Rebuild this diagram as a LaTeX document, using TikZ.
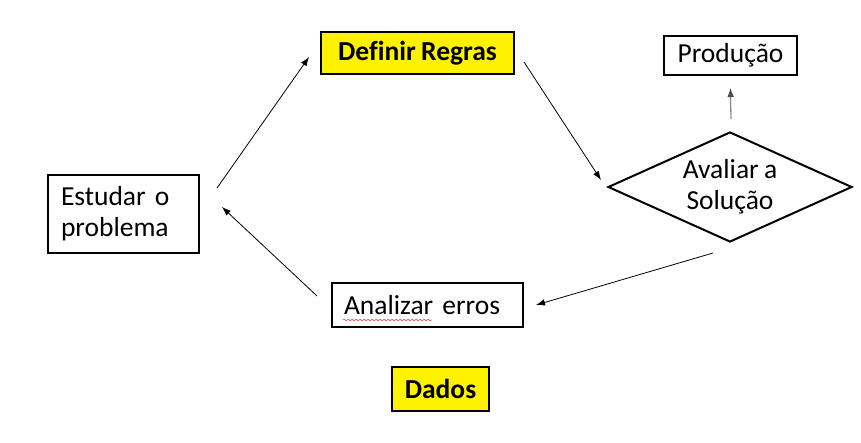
\documentclass[tikz,border=0pt]{standalone}
\usepackage{fontspec}
\setmainfont{Carlito}[WordSpace=0.85,Ligatures=NoCommon]
\usetikzlibrary{arrows.meta,shapes.geometric,decorations.pathmorphing}
\begin{document}
\begin{tikzpicture}[x=1pt,y=-1pt,
  txt/.style={font=\fontsize{27.5}{31}\selectfont},
  box/.style={txt,draw=black,line width=2pt,inner sep=0pt},
  ybox/.style={box,fill=yellow,font=\fontsize{27.5}{31}\selectfont\bfseries},
  arr/.style={-{Latex[length=9pt,width=6.5pt]},line width=0.8pt},
]
\useasboundingbox[fill=white] (0,0) rectangle (861,442);

\node[box,minimum width=151pt,minimum height=78pt,align=left,text width=125pt] (est) at (123.5,214) {Estudar o\\problema};
\node[ybox,minimum width=193pt,minimum height=42pt] (def) at (417.5,53) {Definir Regras};
\node[box,minimum width=133pt,minimum height=39pt] (prod) at (730.5,55.5) {Produção};
\node[txt,draw=black,line width=2pt,diamond,aspect=2.2,inner sep=0pt,minimum width=244pt,minimum height=110pt,align=center] (dia) at (730,187) {Avaliar a\\Solução};
\node[box,minimum width=191pt,minimum height=44pt,align=left,text width=167pt] (ana) at (427.5,305) {Analizar erros};
\node[ybox,minimum width=97pt,minimum height=44pt] (dad) at (440.5,389) {Dados};

\draw[red!85,line width=0.5pt,decorate,decoration={snake,amplitude=0.8pt,segment length=4pt}]
  ([shift={(12,15)}]ana.west) -- ([shift={(101,15)}]ana.west);

\draw[arr] ([shift={(17,14)}]est.north east) -- ([shift={(-11,4)}]def.west);
\draw[arr] ([shift={(9,9)}]def.east) -- ([shift={(-6,-7)}]dia.west);
\draw[arr] ([shift={(-17,10)}]dia.south) -- ([shift={(12,0)}]ana.east);
\draw[arr] ([shift={(-14,-9)}]ana.west) -- ([shift={(22,-7)}]est.east);
\draw[arr,draw=black!70,fill=black!70] ([shift={(1,-12)}]dia.north) -- ([shift={(0,12)}]prod.south);
\end{tikzpicture}
\end{document}
